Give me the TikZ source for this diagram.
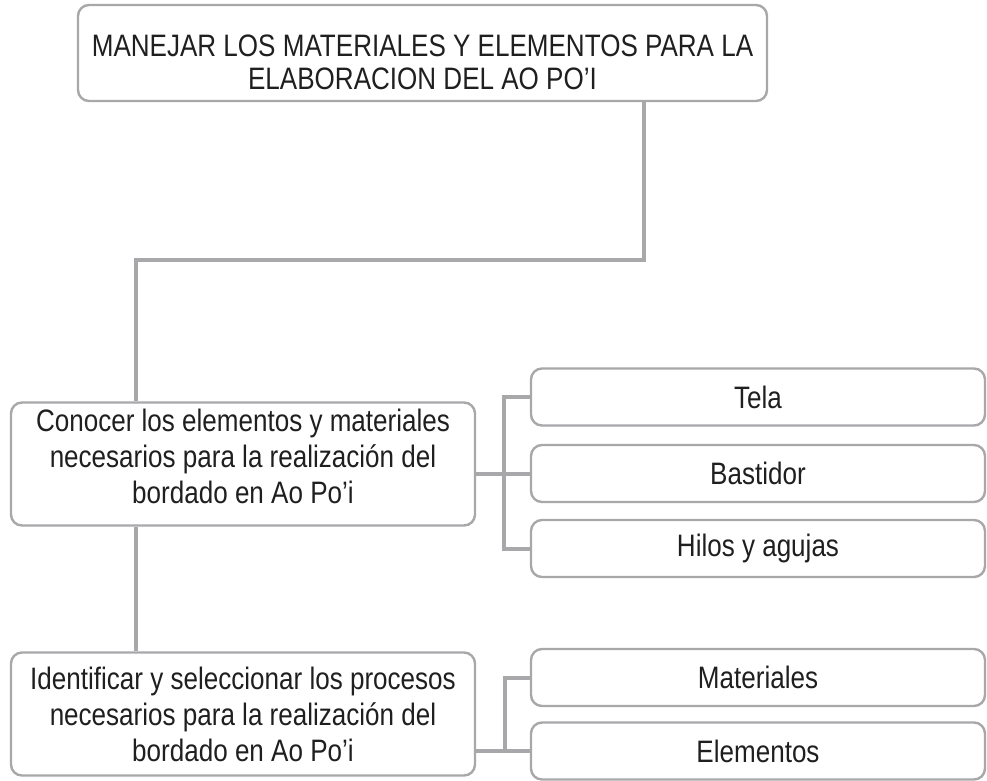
\documentclass[tikz,border=0pt]{standalone}
\usepackage{fontspec}
\setmainfont[FakeStretch=0.84]{Liberation Sans}
\usetikzlibrary{positioning,calc}

\definecolor{linegray}{RGB}{168,168,170}

\begin{document}
\begin{tikzpicture}[
  x=1pt, y=-1pt,
  box node/.style={
    draw=linegray,
    line width=2.4pt,
    rounded corners=11pt,
    inner sep=0pt,
    align=center,
    text=black!88,
    font=\fontsize{31}{36}\selectfont,
  },
  main node/.style={
    box node,
    minimum width=464pt,
    minimum height=123pt,
  },
  leaf node/.style={
    box node,
    minimum width=454pt,
    minimum height=57pt,
  },
  link/.style={
    draw=linegray,
    line width=4pt,
  },
  ]
  \useasboundingbox (0,0) rectangle (987,780);

  \node[box node,minimum width=689pt,minimum height=96pt,
    font=\fontsize{31}{33}\selectfont] (top) at (422.5,53)
  {\rule{0pt}{41pt}MANEJAR LOS MATERIALES Y ELEMENTOS PARA LA\\
    ELABORACION DEL AO PO'I};

  \node[main node] (conocer) at (243,464)
  {Conocer los elementos y materiales\\
    necesarios para la realización del\\
    bordado en Ao Po'i\rule[-16pt]{0pt}{0pt}};
  \node[main node] (ident) at (243,714)
  {Identificar y seleccionar los procesos\\
    necesarios para la realización del\\
    bordado en Ao Po'i};

  \node[leaf node] (tela) at (758,397) {Tela};
  \node[leaf node] (bastidor) at (758,473.5) {Bastidor};
  \node[leaf node] (hilos) at (758,548.5) {Hilos y agujas};

  \node[leaf node] (materiales) at (758,677.5) {Materiales};
  \node[leaf node] (elementos) at (758,751) {Elementos};

  \coordinate (turn) at (644,260);
  \coordinate (spine) at (136,0);
  \coordinate (fork1) at (504,0);
  \coordinate (fork2) at (505,0);

  \path[link]
  (top.south -| turn) -- (turn) -| (conocer.north -| spine)
  (conocer.south -| spine) -- (ident.north -| spine);

  \path[link]
  (bastidor.west -| conocer.east) -- (bastidor.west)
  (bastidor.west -| fork1) |- (tela.west)
  (bastidor.west -| fork1) |- (hilos.west);

  \path[link]
  (elementos.west -| ident.east) -- (elementos.west)
  (elementos.west -| fork2) |- (materiales.west);
\end{tikzpicture}
\end{document}
